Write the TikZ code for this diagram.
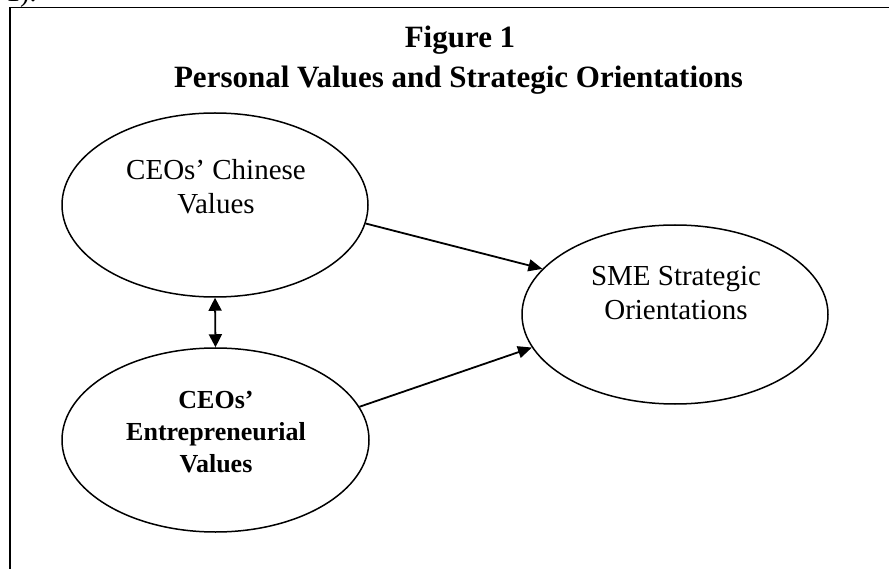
\documentclass[tikz,border=0pt]{standalone}
\usepackage{fontspec}
\setmainfont{Liberation Serif}
\usetikzlibrary{shapes.geometric,arrows.meta}

\tikzset{
  construct/.style={ellipse, draw=black, line width=1.5pt, fill=white, inner sep=0pt},
  heading/.style={font=\bfseries\fontsize{31}{40}\selectfont, inner sep=0pt, anchor=base},
  bodytext/.style={font=\fontsize{29}{34}\selectfont, align=center, inner sep=0pt, anchor=north},
  boldtext/.style={font=\bfseries\fontsize{26}{32}\selectfont, align=center, inner sep=0pt, anchor=north},
  path/.style={line width=1.8pt, -{Triangle[length=14pt,width=12pt]}},
  twoway/.style={line width=1.8pt, {Triangle[length=13pt,width=13pt]}-{Triangle[length=13pt,width=13pt]}},
}

\begin{document}
\begin{tikzpicture}[x=1pt,y=-1pt]
  \useasboundingbox (0,0) rectangle (889,569);

  % frame: top rule and left rule
  \draw[line width=1.8pt] (889,7.5) -- (10,7.5) -- (10,569);
  \node[font=\fontsize{28}{34}\selectfont, inner sep=0pt, anchor=base west] (num) at (6,2) {1).};

  % headings
  \node[heading] (fig) at (460,48) {Figure 1};
  \node[heading] (ttl) at (458.5,88) {Personal Values and Strategic Orientations};

  % constructs
  \node[construct, minimum width=306pt, minimum height=184pt] (e1) at (215,205) {};
  \node[construct, minimum width=307pt, minimum height=184pt] (e2) at (215.5,440) {};
  \node[construct, minimum width=306pt, minimum height=179pt] (e3) at (675,314.5) {};

  \node[bodytext] (t1) at (216,159) {CEOs’ Chinese\\Values};
  \node[boldtext] (t2) at (216,391) {CEOs’\\Entrepreneurial\\Values};
  \node[bodytext] (t3) at (676,266) {SME Strategic\\Orientations};

  % relations
  \draw[path] (e1.-7) -- (e3.161);
  \draw[path] (e2.13) -- (e3.193);
  \draw[twoway] (e1.south) -- (e2.north);
\end{tikzpicture}
\end{document}
